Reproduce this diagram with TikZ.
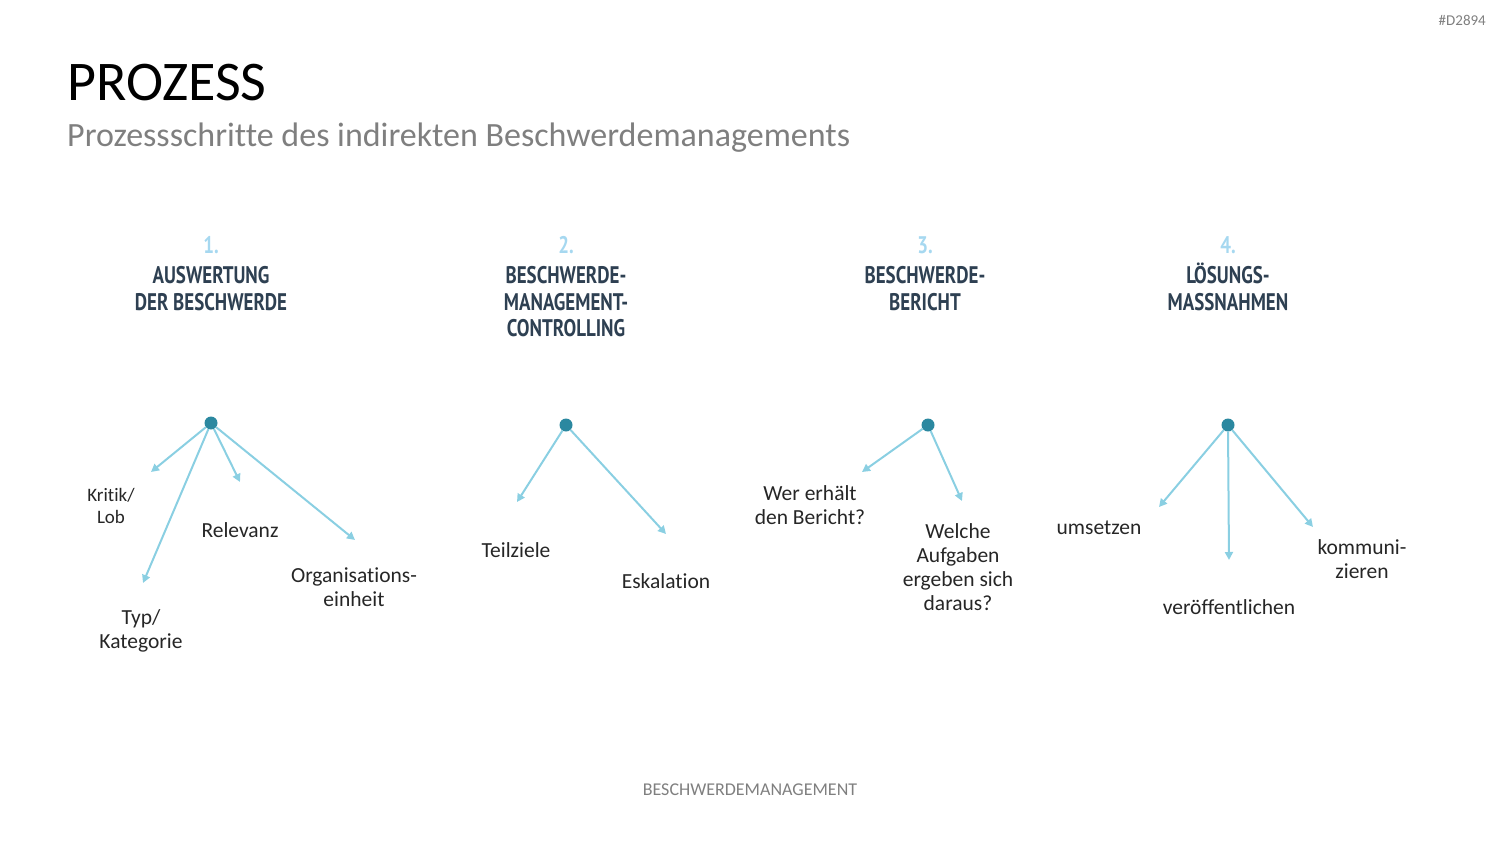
\documentclass[tikz,border=0pt]{standalone}
\usepackage{fontspec}
\usepackage{tikz}
\usepackage{xcolor}
\setmainfont{Carlito}[Ligatures=NoCommon]
\newfontfamily\headfont[FakeStretch=0.79]{PT Sans}
\usetikzlibrary{arrows.meta}

\definecolor{headblue}{HTML}{2E4052}
\definecolor{numblue}{HTML}{A6D8F0}
\definecolor{dotteal}{HTML}{2B88A0}
\definecolor{arrowblue}{HTML}{8ACFE2}
\definecolor{txtgray}{HTML}{262626}
\definecolor{subgray}{HTML}{7F7F7F}

\begin{document}
\begin{tikzpicture}[x=1pt,y=-1pt,
  hub/.style={circle,fill=dotteal,inner sep=0pt,minimum size=13pt},
  branch/.style={draw=arrowblue,line width=2pt,-{Triangle[length=8pt,width=8pt]}},
  leaf/.style={font=\fontsize{21.5}{24}\selectfont,text=txtgray,align=center,inner sep=0pt},
  head/.style={font=\headfont\bfseries\fontsize{24}{26.5}\selectfont,text=headblue,align=center,inner sep=0pt,anchor=north}]
\useasboundingbox (0,0) rectangle (1500,844);

% title
\node[anchor=base west,inner sep=0pt,font=\fontsize{56}{60}\selectfont,text=black] (title) at (67,100) {PROZESS};
\node[anchor=base west,inner sep=0pt,font=\fontsize{34}{38}\selectfont,text=subgray] (subtitle) at (67,146) {Prozessschritte des indirekten Beschwerdemanagements};
\node[anchor=east,inner sep=0pt,font=\fontsize{15}{17}\selectfont,text=subgray] (tag) at (1486,20) {\#D2894};
\node[inner sep=0pt,font=\fontsize{18}{20}\selectfont,text=subgray] (footer) at (750,790) {BESCHWERDEMANAGEMENT};

% headings
\node[head] (head1) at (211,236) {\textcolor{numblue}{1.}\\[4pt]AUSWERTUNG\\DER BESCHWERDE};
\node[head] (head2) at (566,236) {\textcolor{numblue}{2.}\\[4pt]BESCHWERDE-\\MANAGEMENT-\\CONTROLLING};
\node[head] (head3) at (925,236) {\textcolor{numblue}{3.}\\[4pt]BESCHWERDE-\\BERICHT};
\node[head] (head4) at (1228,236) {\textcolor{numblue}{4.}\\[4pt]LÖSUNGS-\\MASSNAHMEN};

% hubs
\node[hub] (hub1) at (211,423) {};
\node[hub] (hub2) at (566,425) {};
\node[hub] (hub3) at (928,425) {};
\node[hub] (hub4) at (1228,425) {};

% step 1
\coordinate (end11) at (151,472);
\coordinate (end12) at (143,583);
\coordinate (end13) at (240,482);
\coordinate (end14) at (355,540);
\draw[branch] (hub1) -- (end11);
\draw[branch] (hub1) -- (end12);
\draw[branch] (hub1) -- (end13);
\draw[branch] (hub1) -- (end14);
\node[leaf,font=\fontsize{19}{22}\selectfont] (kritik) at (111,506) {Kritik/\\Lob};
\node[leaf] (typ) at (141,631) {Typ/\\Kategorie};
\node[leaf] (relevanz) at (240,530) {Relevanz};
\node[leaf] (orga) at (354,587) {Organisations-\\einheit};

% step 2
\coordinate (end21) at (517,502);
\coordinate (end22) at (666,534);
\draw[branch] (hub2) -- (end21);
\draw[branch] (hub2) -- (end22);
\node[leaf] (teilziele) at (516,550) {Teilziele};
\node[leaf] (eskalation) at (666,581) {Eskalation};

% step 3
\coordinate (end31) at (862,472);
\coordinate (end32) at (962,501);
\draw[branch] (hub3) -- (end31);
\draw[branch] (hub3) -- (end32);
\node[leaf] (wer) at (810,505) {Wer erhält\\den Bericht?};
\node[leaf] (welche) at (958,567) {Welche\\Aufgaben\\ergeben sich\\daraus?};

% step 4
\coordinate (end41) at (1159,507);
\coordinate (end42) at (1229,560);
\coordinate (end43) at (1313,527);
\draw[branch] (hub4) -- (end41);
\draw[branch] (hub4) -- (end42);
\draw[branch] (hub4) -- (end43);
\node[leaf] (umsetzen) at (1099,528) {umsetzen};
\node[leaf] (veroeff) at (1229,607) {veröffentlichen};
\node[leaf] (kommuni) at (1362,559) {kommuni-\\zieren};
\end{tikzpicture}
\end{document}
